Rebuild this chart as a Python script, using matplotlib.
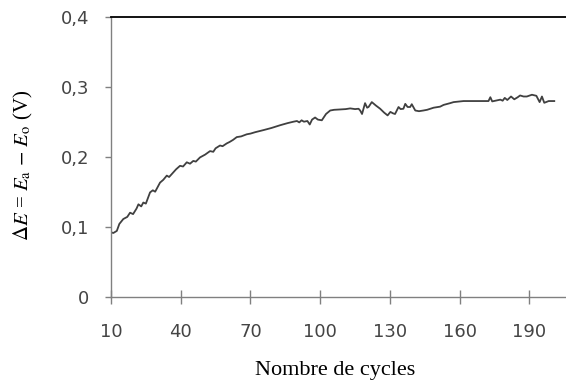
import matplotlib
matplotlib.use('Agg')
import matplotlib.pyplot as plt
from matplotlib.ticker import FuncFormatter

# cycles / delta E (V)
cycles = [10, 11, 12.5, 13.6, 15.3, 17, 18.2, 19.5, 21, 21.8, 23, 23.9, 25, 26.8,
          28, 29, 31.1, 32.5, 34, 35, 36.1, 38, 39.7, 41, 42.6, 44, 45.4, 46.5,
          48.3, 50.5, 52.6, 54, 55, 56.9, 58, 59.8, 61, 62.5, 64.1, 66, 68.4, 70,
          72, 75.6, 79, 82.8, 86, 88.5, 90, 91, 92, 93, 94.5, 95.5, 96.5, 97.8,
          99, 100.7, 102.5, 104.3, 106, 108.6, 111, 112.9, 115, 116.5, 117.2, 118,
          119.3, 120.2, 120.8, 122.2, 124, 125.8, 127.5, 129, 130.2, 131.3, 132.2,
          133.7, 134.6, 135.8, 136.6, 137.6, 138.7, 139.4, 140.9, 142.5, 144.4,
          146, 148.8, 151.6, 153.1, 155.9, 157.4, 161.7, 166, 172.4, 173.2, 174,
          177.5, 178.5, 179.4, 180.5, 182.1, 183.5, 185, 186, 187.5, 188.9, 191.1,
          193, 194.4, 195.4, 196.4, 198.3, 200.7]
delta_e = [0.092, 0.091, 0.094, 0.104, 0.111, 0.114, 0.120, 0.118, 0.126, 0.132,
           0.129, 0.1345, 0.133, 0.149, 0.152, 0.150, 0.163, 0.167, 0.173, 0.171,
           0.175, 0.182, 0.187, 0.186, 0.192, 0.190, 0.194, 0.193, 0.199, 0.203,
           0.208, 0.207, 0.212, 0.216, 0.215, 0.219, 0.221, 0.224, 0.228, 0.229,
           0.232, 0.233, 0.235, 0.238, 0.241, 0.245, 0.248, 0.250, 0.251, 0.249,
           0.252, 0.250, 0.251, 0.246, 0.253, 0.256, 0.253, 0.252, 0.261, 0.266,
           0.267, 0.2675, 0.268, 0.269, 0.268, 0.2685, 0.266, 0.261, 0.2765, 0.270,
           0.271, 0.278, 0.273, 0.2685, 0.263, 0.259, 0.264, 0.262, 0.261, 0.271,
           0.268, 0.2685, 0.2755, 0.271, 0.271, 0.275, 0.266, 0.265, 0.266, 0.267,
           0.270, 0.2715, 0.274, 0.2765, 0.278, 0.2795, 0.2795, 0.2795, 0.285,
           0.279, 0.2815, 0.280, 0.284, 0.281, 0.286, 0.282, 0.285, 0.2875, 0.286,
           0.286, 0.2885, 0.287, 0.278, 0.286, 0.277, 0.2795, 0.2795]

xticks = [10, 40, 70, 100, 130, 160, 190]
yticks = [0, 0.1, 0.2, 0.3, 0.4]

plt.rcParams['font.family'] = 'DejaVu Sans'
plt.rcParams['mathtext.fontset'] = 'stix'

fig = plt.figure(figsize=(5.66, 3.83), dpi=100)
ax = fig.add_axes([111 / 566, 86.3 / 383, 455 / 566, 280 / 383])

ax.plot(cycles, delta_e, color='#404040', lw=1.3)

ax.set_xlim(10, 205.75)
ax.set_ylim(0, 0.4)
ax.set_xticks(xticks)
ax.set_yticks(yticks)
ax.yaxis.set_major_formatter(FuncFormatter(
    lambda v, p: '0' if abs(v) < 1e-9 else f'{v:.1f}'.replace('.', ',')))

for s in ['left', 'bottom']:
    ax.spines[s].set_color('#808080')
    ax.spines[s].set_linewidth(1.0)
ax.spines['top'].set_color('black')
ax.spines['top'].set_linewidth(1.3)
ax.spines['right'].set_visible(False)

ax.tick_params(axis='x', direction='inout', length=9.4, width=1.0,
               color='#808080', pad=14, labelsize=13, labelcolor='#444444')
ax.tick_params(axis='y', direction='out', length=4.3, width=1.0,
               color='#808080', pad=11.5, labelsize=13, labelcolor='#444444')

fig.text(23 / 566, 1 - 165 / 383,
         r'$\Delta E$ = $E_{\mathrm{a}}$ $-$ $E_{\mathrm{o}}$ (V)',
         rotation=90, ha='center', va='center', fontsize=15,
         family='Liberation Serif')
fig.text(335 / 566, 1 - 370 / 383, 'Nombre de cycles', ha='center',
         va='center', fontsize=16, family='Liberation Serif')

fig.savefig('out.png', dpi=100)
